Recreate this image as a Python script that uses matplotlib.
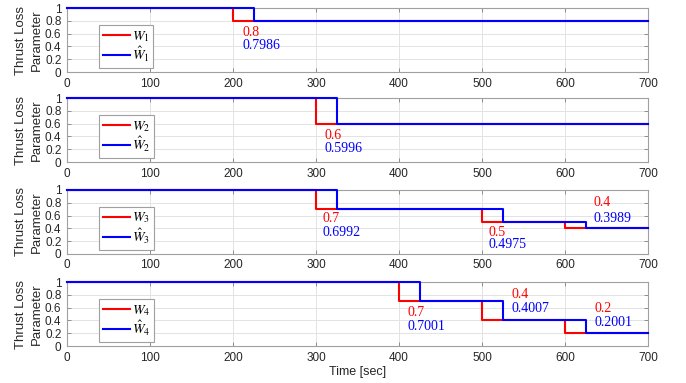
import matplotlib
matplotlib.use('Agg')
import numpy as np
from matplotlib import pyplot as plt

plt.rcParams['font.family'] = ['Liberation Sans', 'DejaVu Sans']
plt.rcParams['mathtext.fontset'] = 'stix'

t_end = 700

# true thrust loss: switch times and levels, one list per actuator
w_times = [[0, 200], [0, 300], [0, 300, 500, 600], [0, 400, 500, 600]]
w_vals = [[1, 0.8], [1, 0.6], [1, 0.7, 0.5, 0.4], [1, 0.7, 0.4, 0.2]]
# estimated thrust loss
what_times = [[0, 225], [0, 325], [0, 325, 525, 625], [0, 425, 525, 625]]
what_vals = [[1, 0.7986], [1, 0.5996], [1, 0.6992, 0.4975, 0.3989],
             [1, 0.7001, 0.4007, 0.2001]]

# annotation anchor points (data coords): x, y of red label, y of blue label
note_x = [[211], [310], [308, 508, 634], [410, 535, 635]]
note_y_red = [[0.62], [0.41], [0.55, 0.34, 0.80], [0.52, 0.80, 0.58]]
note_y_blue = [[0.42], [0.21], [0.33, 0.14, 0.56], [0.30, 0.58, 0.37]]

fig = plt.figure(figsize=(6.86, 3.83), dpi=100)
bottoms = [0.812, 0.577, 0.337, 0.0966]
axes = [fig.add_axes([0.0977, b, 0.847, 0.167]) for b in bottoms]

for i, ax in enumerate(axes):
    tw = np.array(w_times[i] + [t_end])
    vw = np.array(w_vals[i] + [w_vals[i][-1]])
    th = np.array(what_times[i] + [t_end])
    vh = np.array(what_vals[i] + [what_vals[i][-1]])
    ax.step(tw, vw, where='post', color='#ff0000', lw=1.5, clip_on=False,
            zorder=3, label=r'$W_{%d}$' % (i + 1))
    ax.step(th, vh, where='post', color='#0000ff', lw=1.5, clip_on=False,
            zorder=4, label=r'$\hat{W}_{%d}$' % (i + 1))

    # level labels at each switch after the first
    for k, x in enumerate(note_x[i]):
        ax.text(x, note_y_red[i][k], '%g' % w_vals[i][k + 1], color='#ff0000',
                family='Liberation Serif', fontsize=10, va='center', ha='left')
        ax.text(x, note_y_blue[i][k], '%.4f' % what_vals[i][k + 1], color='#0000ff',
                family='Liberation Serif', fontsize=10, va='center', ha='left')

    ax.set_xlim(0, 700)
    ax.set_ylim(0, 1)
    ax.set_xticks(np.arange(0, 701, 100))
    ax.set_yticks([0, 0.2, 0.4, 0.6, 0.8, 1])
    ax.set_yticklabels(['0', '0.2', '0.4', '0.6', '0.8', '1'])
    ax.grid(True, color='#e3e3e3', lw=0.7)
    ax.set_axisbelow(True)
    ax.tick_params(direction='in', length=3, width=0.6, colors='#808080',
                   labelcolor='#262626', labelsize=8.5, top=True, right=True, pad=4)
    for s in ax.spines.values():
        s.set_color('#a0a0a0')
        s.set_linewidth(0.8)
    ax.set_ylabel('Thrust Loss\nParameter', fontsize=9.5, color='#262626', linespacing=1.45)
    ax.yaxis.set_label_coords(-0.041, 0.5)

    leg = ax.legend(loc='lower left', bbox_to_anchor=(0.055, 0.06), fontsize=10,
                    handlelength=1.9, handletextpad=0.15, borderpad=0.3,
                    borderaxespad=0.0, labelspacing=0.1, fancybox=False, framealpha=1)
    leg.get_frame().set_edgecolor('#a0a0a0')
    leg.get_frame().set_linewidth(0.8)
    leg.set_zorder(5)

axes[-1].set_xlabel('Time [sec]', fontsize=9, color='#262626', labelpad=2)

fig.savefig('out.png', dpi=100)
